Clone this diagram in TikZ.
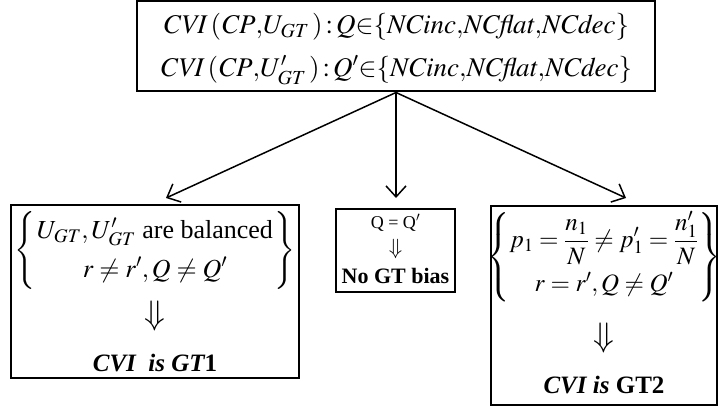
\documentclass[tikz,border=0pt]{standalone}
\usepackage{mathptmx}
\usepackage[no-math]{fontspec}
\setmainfont{Liberation Serif}
\usetikzlibrary{arrows.meta}
\renewcommand\arraystretch{1.3}
\begin{document}
\begin{tikzpicture}[x=1pt,y=-1pt,
  box/.style={draw, line width=2pt, inner sep=0pt},
  txt/.style={inner sep=0pt, align=center},
  arr/.style={line width=1.5pt, -{Straight Barb[length=11pt,width=20pt,line width=1.5pt]}},
  big/.style={font=\fontsize{27}{32}\selectfont},
  mid/.style={font=\fontsize{26}{30}\selectfont},
  dn/.style={font=\fontsize{34}{38}\selectfont},
  small/.style={font=\fontsize{18}{21}\selectfont}]
\useasboundingbox (0,0) rectangle (719,409);

% top box
\node[box, minimum width=518pt, minimum height=90pt] (top) at (396,46.5) {};
\node[txt, big] (t1) at (396,27) {$\mathit{CVI}\,(\mathit{CP}{,}U_{GT}\,)\!:\!Q{\in}\{\mathit{NCinc}{,}\mathit{NCflat}{,}\mathit{NCdec}\}$};
\node[txt, big] (t2) at (396,70) {$\mathit{CVI}\,(\mathit{CP}{,}U'_{GT}\,)\!:\!Q'{\in}\{\mathit{NCinc}{,}\mathit{NCflat}{,}\mathit{NCdec}\}$};

% arrow tips
\coordinate (tl) at (166,198);
\coordinate (tm) at (396,198);
\coordinate (tr) at (626,198);
\draw[arr] (top.south) -- (tl);
\draw[arr] (top.south) -- (tm);
\draw[arr] (top.south) -- (tr);

% left box
\node[box, minimum width=288pt, minimum height=173pt] (lb) at (155,291.5) {};
\node[txt, mid] (l1) at (155,250) {$\left\{\begin{array}{@{\hspace{2pt}}c@{\hspace{2pt}}} U_{GT},U'_{GT}\ \mbox{are balanced}\\ r\neq r',Q\neq Q'\end{array}\right\}$};
\node[txt, dn] (l2) at (155,316) {$\Downarrow$};
\node[txt, font=\fontsize{25}{29}\selectfont\bfseries\itshape] (l3) at (155,363) {CVI\ \ is GT\upshape 1};

% middle box
\node[box, minimum width=119pt, minimum height=83pt] (mb) at (395.5,250.5) {};
\node[txt, small] (m1) at (395.5,223) {Q = Q$'$};
\node[txt, font=\fontsize{22}{24}\selectfont] (m2) at (395.5,249) {$\Downarrow$};
\node[txt, font=\fontsize{22}{26}\selectfont\bfseries] (m3) at (395.5,276) {No GT bias};

% right box
\node[box, minimum width=226pt, minimum height=199pt] (rb) at (604,305.5) {};
\node[txt, font=\fontsize{25}{29}\selectfont] (r1) at (604,257) {$\left\{\begin{array}{@{}c@{}} p_1=\displaystyle\frac{n_1}{N}\neq p'_1=\frac{n'_1}{N}\\ r=r',Q\neq Q'\end{array}\right\}$};
\node[txt, dn] (r2) at (604,338) {$\Downarrow$};
\node[txt, font=\fontsize{25}{29}\selectfont\bfseries] (r3) at (604,385) {\itshape CVI is \upshape GT2};
\end{tikzpicture}
\end{document}
